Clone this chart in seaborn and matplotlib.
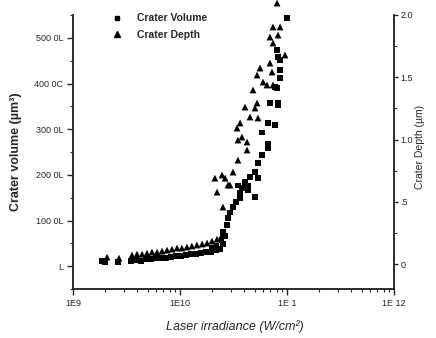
import matplotlib
matplotlib.use('Agg')
from matplotlib import pyplot as plt
from matplotlib.lines import Line2D
import matplotlib.ticker as mticker
import numpy as np
import pandas as pd
import seaborn as sns

# Crater volume (um^3) vs laser irradiance (W/cm^2)
volIrr = [1.87e9, 1.99e9, 2.64e9, 3.48e9, 3.88e9, 4.33e9, 4.81e9, 5.36e9, 5.97e9,
          6.64e9, 7.40e9, 8.24e9, 9.18e9, 1.02e10, 1.14e10, 1.27e10, 1.41e10,
          1.57e10, 1.75e10, 1.95e10, 2.17e10, 2.37e10, 2.52e10, 2.64e10, 2.52e10,
          2.75e10, 2.81e10, 2.93e10, 3.13e10, 3.33e10, 3.64e10, 3.64e10, 3.48e10,
          3.79e10, 4.33e10, 5.02e10, 4.33e10, 4.51e10, 5.02e10, 5.36e10, 5.36e10,
          5.83e10, 6.64e10, 6.64e10, 5.83e10, 6.64e10, 7.73e10, 6.93e10, 8.24e10,
          8.24e10, 7.73e10, 8.07e10, 8.61e10, 8.07e10, 8.24e10, 8.61e10, 1.0e11,
          8.61e10, 4.05e10, 2.0e10, 2.2e10, 2.45e10]
volume = [11000, 8800, 8800, 11000, 13100, 11000, 15300, 15300, 17500,
          17500, 17500, 19700, 21900, 21900, 24100, 26300, 26300,
          28500, 30700, 30700, 35000, 37200, 48200, 65700, 74500,
          89800, 105000, 118000, 129000, 140000, 149000, 160000, 177000,
          171000, 166000, 151000, 177000, 195000, 206000, 193000, 226000,
          243000, 258000, 269000, 293000, 313000, 309000, 357000, 357000,
          353000, 392000, 390000, 412000, 473000, 458000, 451000, 543000,
          429000, 184000, 40000, 44000, 56000]

# Crater depth (um) vs laser irradiance (W/cm^2)
depIrr = [2.08e9, 2.69e9, 3.56e9, 3.96e9, 4.42e9, 4.92e9, 5.47e9, 6.10e9, 6.79e9,
          7.57e9, 8.42e9, 9.38e9, 1.04e10, 1.16e10, 1.29e10, 1.44e10, 1.61e10,
          1.79e10, 1.99e10, 2.22e10, 2.47e10, 2.52e10, 2.22e10, 2.12e10, 2.47e10,
          2.81e10, 3.48e10, 4.23e10, 4.23e10, 3.48e10, 3.79e10, 3.41e10, 3.64e10,
          4.51e10, 5.36e10, 4.05e10, 5.02e10, 5.25e10, 4.81e10, 5.25e10, 5.97e10,
          6.50e10, 7.40e10, 7.24e10, 5.60e10, 6.93e10, 7.40e10, 9.57e10, 6.93e10,
          8.24e10, 7.40e10, 8.61e10, 8.07e10, 2.64e10, 2.93e10, 3.13e10]
depth = [0.056, 0.048, 0.072, 0.080, 0.080, 0.088, 0.096, 0.096, 0.104,
         0.112, 0.120, 0.129, 0.129, 0.137, 0.145, 0.153, 0.161,
         0.169, 0.185, 0.200, 0.233, 0.458, 0.578, 0.690, 0.715,
         0.635, 0.835, 0.916, 0.980, 0.996, 1.020, 1.092, 1.133,
         1.181, 1.173, 1.261, 1.253, 1.293, 1.398, 1.518, 1.462,
         1.438, 1.438, 1.542, 1.574, 1.614, 1.775, 1.679, 1.823,
         1.839, 1.904, 1.904, 2.096, 0.690, 0.635, 0.739]

volTicks = [0, 100000, 200000, 300000, 400000, 500000]
volTickLabels = ["L", "100 0L", "200 0L", "300 0L", "400 0C", "500 0L"]
depTicks = [0, 0.5, 1.0, 1.5, 2.0]
depTickLabels = ["0", ".5", "1.0", "1.5", "2.0"]
irrTicks = [1e9, 1e10, 1e11, 1e12]
irrTickLabels = ["1E9", "1E10", "1E 1", "1E 12"]

volDf = pd.DataFrame({"irr": volIrr, "vol": volume})
depDf = pd.DataFrame({"irr": depIrr, "dep": depth})

sns.set_style("ticks")
plt.rcParams['font.family'] = ['Liberation Sans', 'DejaVu Sans']

my_dpi = 100
fig = plt.figure(figsize=(436/my_dpi, 338/my_dpi), dpi=my_dpi)
ax = fig.add_axes([73/436, 1 - 289/338, 321/436, 274/338])
ax2 = ax.twinx()

sns.scatterplot(data=volDf, x="irr", y="vol", marker="s", s=16, color="black",
                edgecolor="none", ax=ax)
sns.scatterplot(data=depDf, x="irr", y="dep", marker="^", s=24, color="black",
                edgecolor="none", ax=ax2, clip_on=False)

ax.set_xscale("log")
ax.set_xlim(1e9, 1e12)
ax.set_ylim(-50000, 550000)
ax2.set_ylim(-0.2, 2.0)

ax.set_xticks(irrTicks)
ax.set_xticklabels(irrTickLabels, fontsize=6.5)
ax.xaxis.set_minor_locator(mticker.LogLocator(base=10, subs=np.arange(2, 10)))
ax.xaxis.set_minor_formatter(mticker.NullFormatter())
ax.set_yticks(volTicks)
ax.set_yticklabels(volTickLabels, fontsize=6.5)
ax.yaxis.set_minor_locator(mticker.MultipleLocator(50000))
ax2.set_yticks(depTicks)
ax2.set_yticklabels(depTickLabels, fontsize=6.5)
ax2.yaxis.set_minor_locator(mticker.MultipleLocator(0.25))

for a in (ax, ax2):
    a.tick_params(which="major", length=4, width=1, direction="out", pad=3)
    a.tick_params(which="minor", length=2, width=0.8, direction="out")
    a.spines["top"].set_visible(False)
    for s in a.spines.values():
        s.set_linewidth(1.1)
ax2.tick_params(which="major", length=3, pad=1.5)

ax.set_xlabel("Laser irradiance (W/cm\u00b2)", fontsize=9, style="italic")
ax.xaxis.set_label_coords(0.505, -0.115)
ax.set_ylabel("Crater volume (\u00b5m\u00b3)", fontsize=9, fontweight="bold")
ax.yaxis.set_label_coords(-0.16, 0.5)
ax2.set_ylabel("Crater Depth (\u00b5m)", fontsize=7.5)
ax2.yaxis.set_label_coords(1.066, 0.52)

handles = [Line2D([], [], marker="s", color="black", linestyle="none", markersize=3.5),
           Line2D([], [], marker="^", color="black", linestyle="none", markersize=5)]
ax.legend(handles, ["Crater Volume", "Crater Depth"], loc="upper left",
          bbox_to_anchor=(0.075, 1.04), frameon=False,
          handletextpad=0.9, labelspacing=0.6, prop={"weight": "bold", "size": 7.5})

plt.savefig("out.png", dpi=my_dpi)
plt.close()
